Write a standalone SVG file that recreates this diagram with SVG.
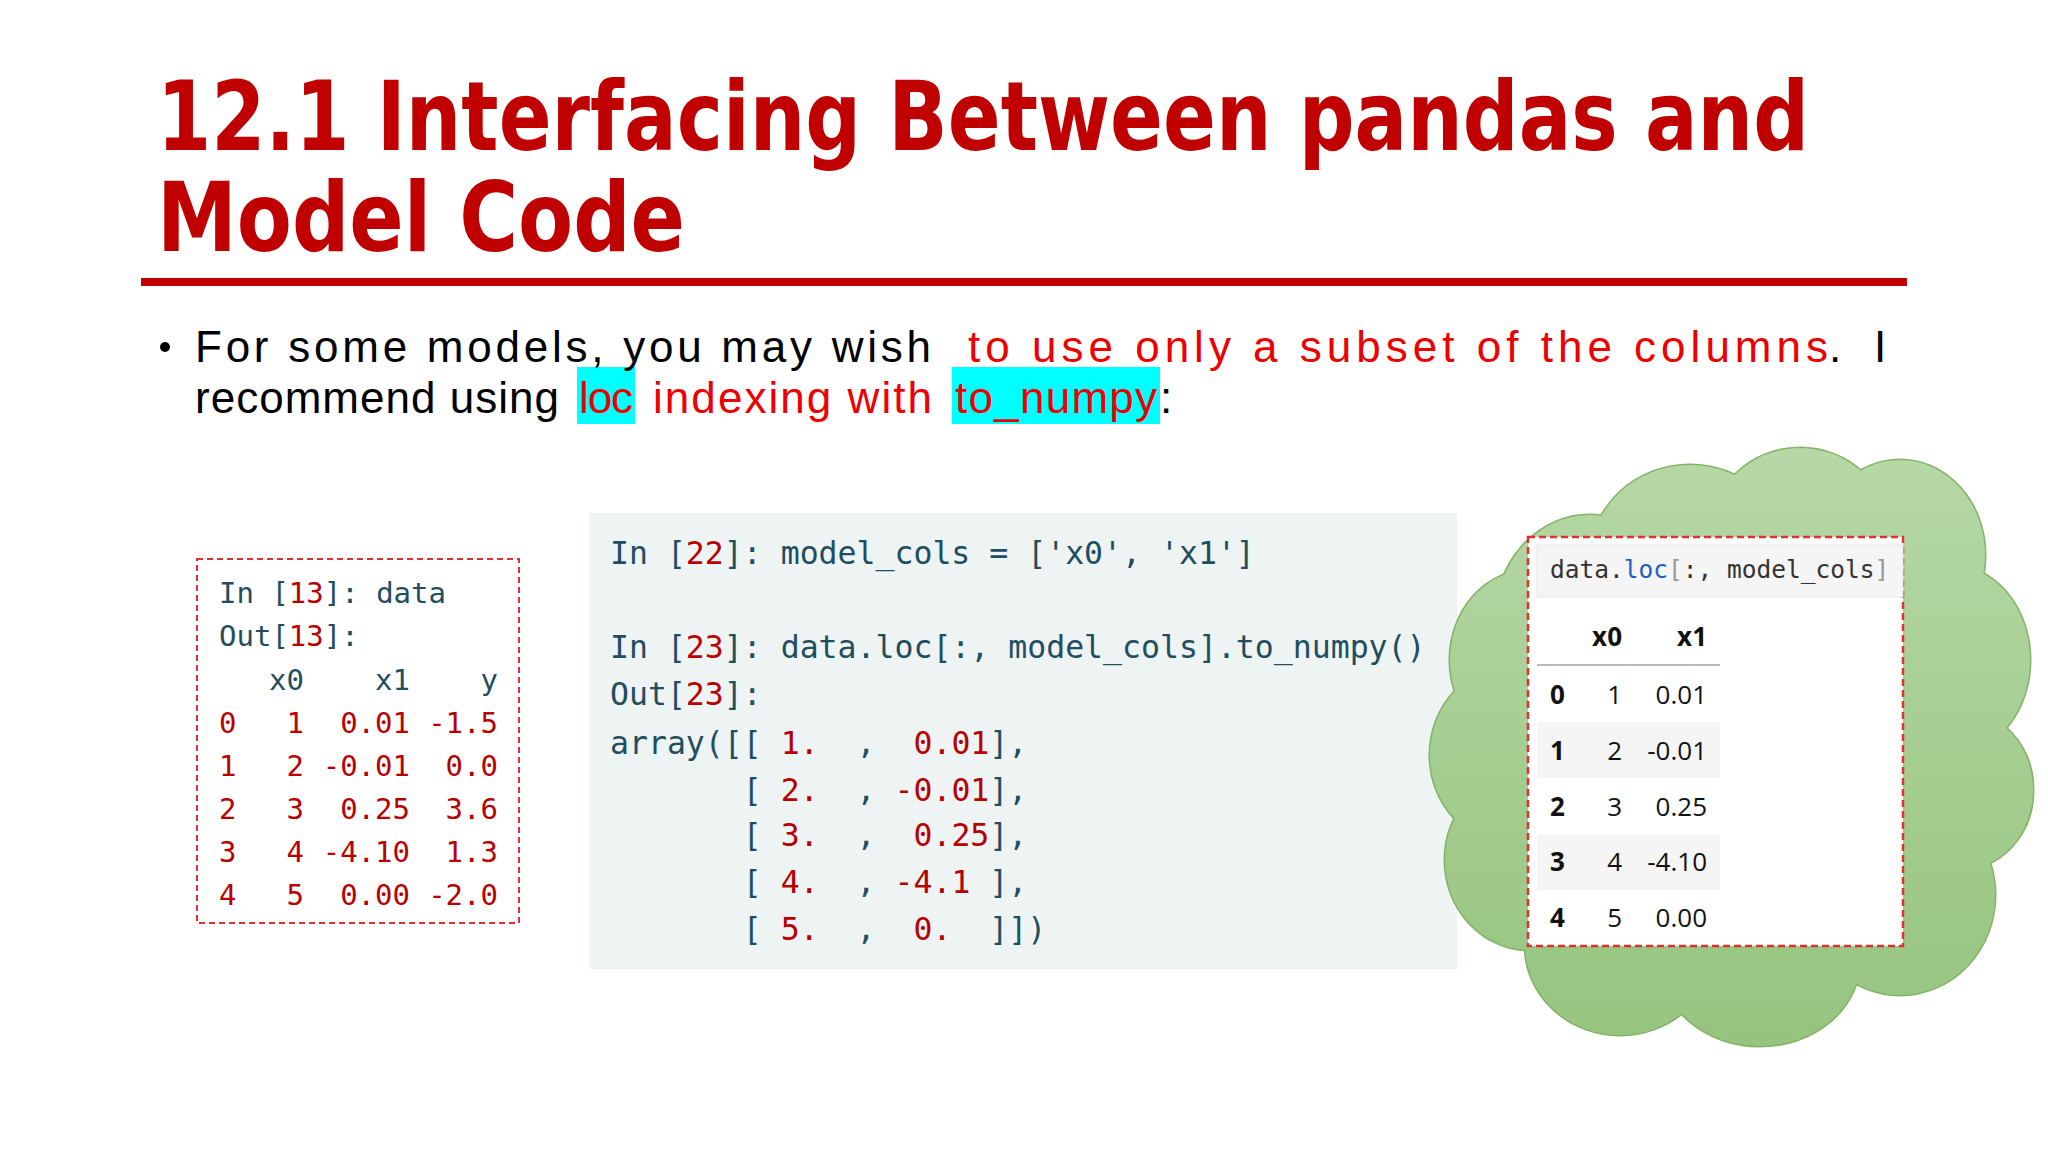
<svg xmlns="http://www.w3.org/2000/svg" width="2048" height="1152" viewBox="0 0 2048 1152">
<style>
.title{font-family:"DejaVu Sans",sans-serif;font-weight:bold;font-size:96px;fill:#c00000}
.b{font-family:"Liberation Sans",sans-serif;font-size:44px;fill:#000}
.r{fill:#ee0000}
.m{font-family:"DejaVu Sans Mono","Liberation Mono",monospace;fill:#1f4e5f}
.n{fill:#b80000}
.t{font-family:"Open Sans","Liberation Sans",sans-serif;font-size:26px;fill:#111}
.bd{font-weight:bold}
</style>
<defs>
<linearGradient id="g" gradientUnits="userSpaceOnUse" x1="0" y1="448" x2="0" y2="1046"><stop offset="0" stop-color="#b6d8a6"/><stop offset="1" stop-color="#96c47e"/></linearGradient>
</defs>
<rect width="2048" height="1152" fill="#fff"/>
<g id="title">
<text class="title" x="157" y="150" textLength="1652" lengthAdjust="spacingAndGlyphs">12.1 Interfacing Between pandas and</text>
<text class="title" x="157" y="251" textLength="528" lengthAdjust="spacingAndGlyphs">Model Code</text>
<rect x="141" y="278" width="1766" height="8" fill="#c00000"/>
</g>
<g id="bullet">
<rect x="577" y="367" width="58" height="57" fill="#00ffff"/>
<rect x="952" y="367" width="208" height="57" fill="#00ffff"/>
<circle cx="165" cy="347" r="5" fill="#000"/>
<text class="b" x="195" y="362" textLength="736" lengthAdjust="spacing">For some models, you may wish</text>
<text class="b r" x="968" y="362" textLength="860" lengthAdjust="spacing">to use only a subset of the columns</text>
<text class="b" x="1829" y="362">.</text>
<text class="b" x="1874" y="362">I</text>
<text class="b" x="195" y="413" textLength="364" lengthAdjust="spacing">recommend using</text>
<text class="b r" x="579" y="413" textLength="54" lengthAdjust="spacing">loc</text>
<text class="b r" x="653" y="413" textLength="279" lengthAdjust="spacing">indexing with</text>
<text class="b r" x="955" y="413" textLength="202" lengthAdjust="spacing">to_numpy</text>
<text class="b" x="1160" y="413">:</text>
</g>
<g id="left-box">
<rect x="197" y="559" width="322" height="364" fill="#fff" stroke="#e03030" stroke-width="2" stroke-dasharray="6,4"/>
<g class="m" font-size="29">
<text x="219" y="603" xml:space="preserve">In [<tspan class="n">13</tspan>]: data</text>
<text x="219" y="646">Out[<tspan class="n">13</tspan>]:</text>
<text x="304" y="690" text-anchor="end">x0</text><text x="410" y="690" text-anchor="end">x1</text><text x="498" y="690" text-anchor="end">y</text>
</g>
<g class="m n" font-size="29">
<text x="219" y="733">0</text><text x="304" y="733" text-anchor="end">1</text><text x="410" y="733" text-anchor="end">0.01</text><text x="498" y="733" text-anchor="end">-1.5</text>
<text x="219" y="776">1</text><text x="304" y="776" text-anchor="end">2</text><text x="410" y="776" text-anchor="end">-0.01</text><text x="498" y="776" text-anchor="end">0.0</text>
<text x="219" y="819">2</text><text x="304" y="819" text-anchor="end">3</text><text x="410" y="819" text-anchor="end">0.25</text><text x="498" y="819" text-anchor="end">3.6</text>
<text x="219" y="862">3</text><text x="304" y="862" text-anchor="end">4</text><text x="410" y="862" text-anchor="end">-4.10</text><text x="498" y="862" text-anchor="end">1.3</text>
<text x="219" y="905">4</text><text x="304" y="905" text-anchor="end">5</text><text x="410" y="905" text-anchor="end">0.00</text><text x="498" y="905" text-anchor="end">-2.0</text>
</g>
</g>
<g id="middle-box">
<rect x="589" y="513" width="868" height="456" fill="#eef3f3"/>
<g class="m" font-size="31.5">
<text x="610" y="564" xml:space="preserve">In [<tspan class="n">22</tspan>]: model_cols = ['x0', 'x1']</text>
<text x="610" y="658" xml:space="preserve">In [<tspan class="n">23</tspan>]: data.loc[:, model_cols].to_numpy()</text>
<text x="610" y="705" xml:space="preserve">Out[<tspan class="n">23</tspan>]:</text>
<text x="610" y="754" xml:space="preserve">array([[ <tspan class="n">1.</tspan>  ,  <tspan class="n">0.01</tspan>],</text>
<text x="610" y="801" xml:space="preserve">       [ <tspan class="n">2.</tspan>  , <tspan class="n">-0.01</tspan>],</text>
<text x="610" y="846" xml:space="preserve">       [ <tspan class="n">3.</tspan>  ,  <tspan class="n">0.25</tspan>],</text>
<text x="610" y="893" xml:space="preserve">       [ <tspan class="n">4.</tspan>  , <tspan class="n">-4.1</tspan> ],</text>
<text x="610" y="940" xml:space="preserve">       [ <tspan class="n">5.</tspan>  ,  <tspan class="n">0.</tspan>  ]])</text>
</g>
</g>
<g id="cloud">
<g fill="none" stroke="#82b366" stroke-width="3">
<ellipse cx="1590" cy="620" rx="95" ry="105"/><ellipse cx="1690" cy="560" rx="100" ry="95"/><ellipse cx="1800" cy="535" rx="90" ry="87"/><ellipse cx="1900" cy="555" rx="85" ry="95"/><ellipse cx="1950" cy="660" rx="80" ry="95"/><ellipse cx="1960" cy="790" rx="73" ry="80"/><ellipse cx="1900" cy="895" rx="95" ry="100"/><ellipse cx="1760" cy="960" rx="100" ry="86"/><ellipse cx="1620" cy="945" rx="95" ry="90"/><ellipse cx="1530" cy="860" rx="85" ry="90"/><ellipse cx="1515" cy="755" rx="85" ry="90"/><ellipse cx="1530" cy="660" rx="80" ry="90"/><ellipse cx="1740" cy="750" rx="220" ry="220"/>
</g>
<g fill="url(#g)">
<ellipse cx="1590" cy="620" rx="95" ry="105"/><ellipse cx="1690" cy="560" rx="100" ry="95"/><ellipse cx="1800" cy="535" rx="90" ry="87"/><ellipse cx="1900" cy="555" rx="85" ry="95"/><ellipse cx="1950" cy="660" rx="80" ry="95"/><ellipse cx="1960" cy="790" rx="73" ry="80"/><ellipse cx="1900" cy="895" rx="95" ry="100"/><ellipse cx="1760" cy="960" rx="100" ry="86"/><ellipse cx="1620" cy="945" rx="95" ry="90"/><ellipse cx="1530" cy="860" rx="85" ry="90"/><ellipse cx="1515" cy="755" rx="85" ry="90"/><ellipse cx="1530" cy="660" rx="80" ry="90"/><ellipse cx="1740" cy="750" rx="220" ry="220"/>
</g>
</g>
<g id="table">
<rect x="1528" y="537" width="375" height="409" fill="#fff" stroke="#e03030" stroke-width="2.5" stroke-dasharray="7,4"/>
<rect x="1537" y="545" width="366" height="52" fill="#f5f5f5" stroke="#e6e6e6"/>
<text x="1550" y="578" font-family="DejaVu Sans Mono,monospace" font-size="24.5" fill="#333" xml:space="preserve">data.<tspan fill="#1f5fbf">loc</tspan><tspan fill="#999">[</tspan>:, model_cols<tspan fill="#999">]</tspan></text>
<rect x="1537" y="722" width="183" height="56" fill="#f5f5f5"/>
<rect x="1537" y="835" width="183" height="55" fill="#f5f5f5"/>
<line x1="1537" y1="665" x2="1720" y2="665" stroke="#bbb" stroke-width="2"/>
<g class="t">
<text class="bd" x="1622" y="646" text-anchor="end">x0</text><text class="bd" x="1707" y="646" text-anchor="end">x1</text>
<text class="bd" x="1550" y="704">0</text><text x="1622" y="704" text-anchor="end">1</text><text x="1707" y="704" text-anchor="end">0.01</text>
<text class="bd" x="1550" y="760">1</text><text x="1622" y="760" text-anchor="end">2</text><text x="1707" y="760" text-anchor="end">-0.01</text>
<text class="bd" x="1550" y="816">2</text><text x="1622" y="816" text-anchor="end">3</text><text x="1707" y="816" text-anchor="end">0.25</text>
<text class="bd" x="1550" y="871">3</text><text x="1622" y="871" text-anchor="end">4</text><text x="1707" y="871" text-anchor="end">-4.10</text>
<text class="bd" x="1550" y="927">4</text><text x="1622" y="927" text-anchor="end">5</text><text x="1707" y="927" text-anchor="end">0.00</text>
</g>
</g>
</svg>
